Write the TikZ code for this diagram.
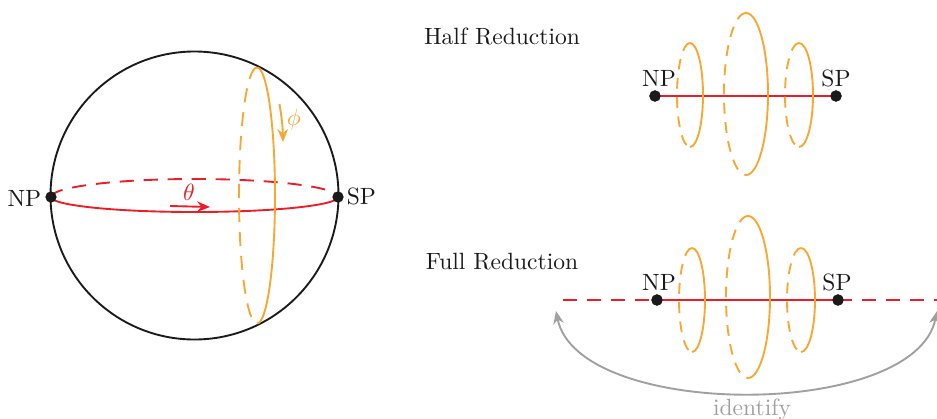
\documentclass[tikz,border=0pt]{standalone}
\usetikzlibrary{arrows.meta}
\definecolor{cred}{RGB}{232,30,40}
\definecolor{corange}{RGB}{246,168,50}
\definecolor{cgray}{RGB}{160,160,160}
\definecolor{cblack}{RGB}{26,26,26}
\newcommand{\uu}{0.425pt}
\tikzset{
  ln/.style={line width=0.8pt},
  dsh/.style={dash pattern=on 6pt off 4.2pt},
  dshs/.style={dash pattern=on 4.6pt off 3.6pt},
  dot/.style={circle,fill=cblack,inner sep=0pt,minimum size=4.8pt},
  lbl/.style={text=cblack,inner sep=1pt},
  tip/.style={-{Stealth[length=5.5pt,width=4.5pt]}},
}
\newcommand{\ring}[4]{%
  \draw[ln,corange,dshs] (#1,#2-#4) arc[start angle=90,end angle=270,x radius=#3*\uu,y radius=#4*\uu];
  \draw[ln,corange] (#1,#2-#4) arc[start angle=90,end angle=-90,x radius=#3*\uu,y radius=#4*\uu];
}
\begin{document}
\begin{tikzpicture}[x=0.425pt,y=-0.425pt]
\useasboundingbox (0,0) rectangle (937,418);
% ---------- sphere ----------
\draw[ln,cblack] (194.5,195.5) circle[radius=144*\uu];
\coordinate (npA) at (51,197);
\coordinate (spA) at (338,197);
\draw[ln,cred,dsh] (npA) arc[start angle=180,end angle=0,x radius=143.5*\uu,y radius=18*\uu];
\draw[ln,cred] (npA) arc[start angle=180,end angle=360,x radius=143.5*\uu,y radius=15*\uu];
\coordinate (mtop) at (257,67.5);
\draw[ln,corange,dsh] (mtop) arc[start angle=90,end angle=270,x radius=18*\uu,y radius=128*\uu];
\draw[ln,corange] (mtop) arc[start angle=90,end angle=-90,x radius=18*\uu,y radius=128*\uu];
\coordinate (pa) at (279.5,104);
\coordinate (pb) at (283,142);
\draw[ln,corange,tip] (pa) to[bend left=4] (pb);
\node[text=corange] (phi) at (294,120) {$\phi$};
\coordinate (ta) at (170,206);
\coordinate (tb) at (210,207);
\draw[ln,cred,tip] (ta) -- (tb);
\node[text=cred] (theta) at (189,192) {$\theta$};
\node[dot] (np1) at (npA) {};
\node[dot] (sp1) at (spA) {};
\node[lbl,anchor=east] (npl1) at (44,198) {NP};
\node[lbl,anchor=west] (spl1) at (344,196) {SP};
% ---------- half reduction ----------
\node[lbl] (hr) at (502,36) {Half Reduction};
\node[dot] (np2) at (655,96) {};
\node[dot] (sp2) at (836,96) {};
\draw[ln,cred] (np2.center) -- (sp2.center);
\ring{690}{95}{13}{52}
\ring{746}{94}{22}{81}
\ring{799}{95}{14}{52}
\node[dot] at (np2) {};
\node[dot] at (sp2) {};
\node[lbl] (npl2) at (659,78) {NP};
\node[lbl] (spl2) at (836,78) {SP};
% ---------- full reduction ----------
\node[lbl] (fr) at (502,262) {Full Reduction};
\node[dot] (np3) at (657,300) {};
\node[dot] (sp3) at (838,300) {};
\coordinate (fl) at (563,300);
\coordinate (frr) at (940,300);
\draw[ln,cred,dsh] (fl) -- (np3.center);
\draw[ln,cred,dsh] (sp3.center) -- (frr);
\draw[ln,cred] (np3.center) -- (sp3.center);
\ring{692}{300}{13}{52}
\ring{748}{297}{22}{81}
\ring{801}{300}{14}{52}
\node[dot] at (np3) {};
\node[dot] at (sp3) {};
\node[lbl] (npl3) at (659,282) {NP};
\node[lbl] (spl3) at (837,282) {SP};
\coordinate (gl) at (556,311);
\coordinate (gr) at (937,311);
\draw[ln,cgray,{Stealth[length=5.5pt,width=4.5pt]}-{Stealth[length=5.5pt,width=4.5pt]}] (gl) .. controls (578,420) and (915,420) .. (gr);
\node[text=cgray] (idf) at (752,410) {identify};
\end{tikzpicture}
\end{document}
